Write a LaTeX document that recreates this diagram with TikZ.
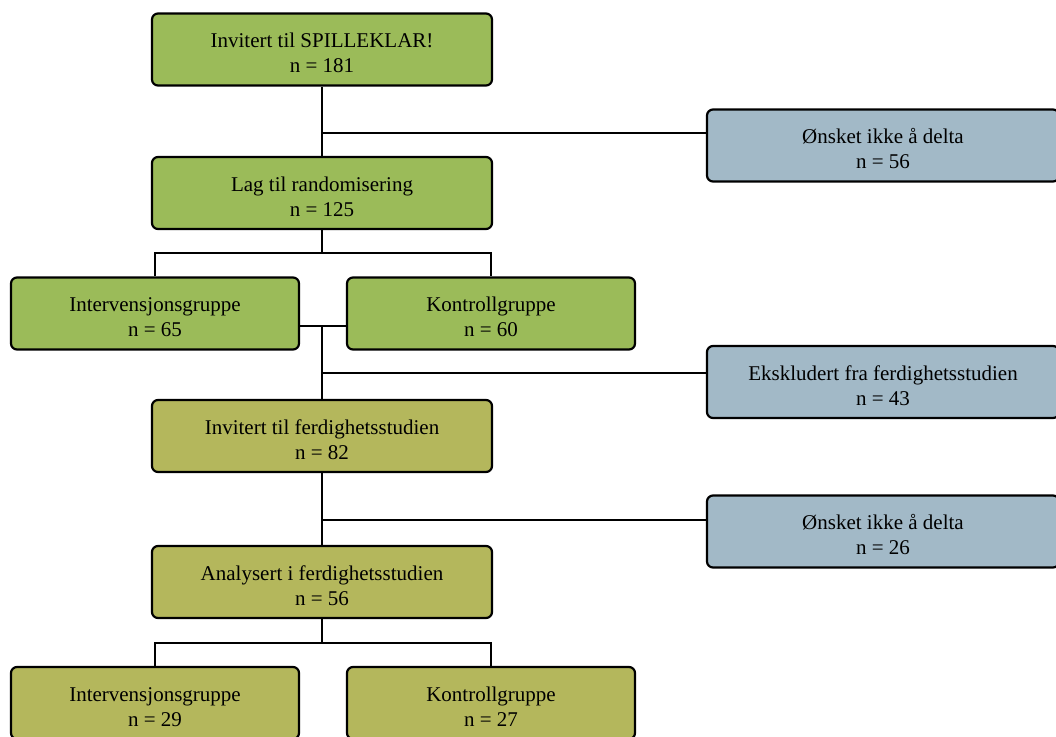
\documentclass[tikz,border=0pt]{standalone}
\usepackage{fontspec}
\setmainfont{Liberation Serif}

\definecolor{boxgreen}{RGB}{155,187,89}
\definecolor{boxolive}{RGB}{180,183,92}
\definecolor{boxblue}{RGB}{162,185,199}

\begin{document}
\begin{tikzpicture}[x=1pt, y=-1pt,
    box/.style={draw=black, line width=2.2pt, rounded corners=6pt, align=center,
        minimum height=72pt, inner sep=0pt, text height=46.5pt,
        font=\fontsize{21}{25}\selectfont},
    mainbox/.style={box, fill=boxgreen, minimum width=340pt},
    groupbox/.style={box, fill=boxgreen, minimum width=288pt},
    olivebox/.style={box, fill=boxolive, minimum width=340pt},
    olivegroup/.style={box, fill=boxolive, minimum width=288pt},
    outbox/.style={box, fill=boxblue, minimum width=352pt},
    line/.style={draw=black, line width=1.6pt}]
        \useasboundingbox (0,0) rectangle (1056,736);

        % Main boxes
        \node[mainbox] (invited) at (322,49.5) {Invitert til SPILLEKLAR!\\n = 181};
        \node[mainbox] (random) at (322,193) {Lag til randomisering\\n = 125};
        \node[groupbox] (interv1) at (155,313.5) {Intervensjonsgruppe\\n = 65};
        \node[groupbox] (control1) at (491,313.5) {Kontrollgruppe\\n = 60};
        \node[olivebox] (skill) at (322,436) {Invitert til ferdighetsstudien\\n = 82};
        \node[olivebox] (analysed) at (322,582) {Analysert i ferdighetsstudien\\n = 56};
        \node[olivegroup] (interv2) at (155,703) {Intervensjonsgruppe\\n = 29};
        \node[olivegroup] (control2) at (491,703) {Kontrollgruppe\\n = 27};

        % Drop-outs
        \node[outbox] (declined1) at (883,145.5) {Ønsket ikke å delta\\n = 56};
        \node[outbox] (excluded) at (883,382) {Ekskludert fra ferdighetsstudien\\n = 43};
        \node[outbox] (declined2) at (883,531.5) {Ønsket ikke å delta\\n = 26};

        % Junctions
        \coordinate (j1) at (322,133);
        \coordinate (split1) at (322,253);
        \coordinate (merge) at (322,326);
        \coordinate (j2) at (322,373);
        \coordinate (j3) at (322,520);
        \coordinate (split2) at (322,643);

        % Lines
        \draw[line] (invited) -- (random);
        \draw[line] (j1) -- (j1 -| declined1.west);
        \draw[line] (random) -- (split1);
        \draw[line] (interv1.north) |- (split1) -| (control1.north);
        \draw[line] (merge -| interv1.east) -- (merge -| control1.west);
        \draw[line] (merge) -- (skill);
        \draw[line] (j2) -- (j2 -| excluded.west);
        \draw[line] (skill) -- (analysed);
        \draw[line] (j3) -- (j3 -| declined2.west);
        \draw[line] (analysed) -- (split2);
        \draw[line] (interv2.north) |- (split2) -| (control2.north);
    \end{tikzpicture}
\end{document}
